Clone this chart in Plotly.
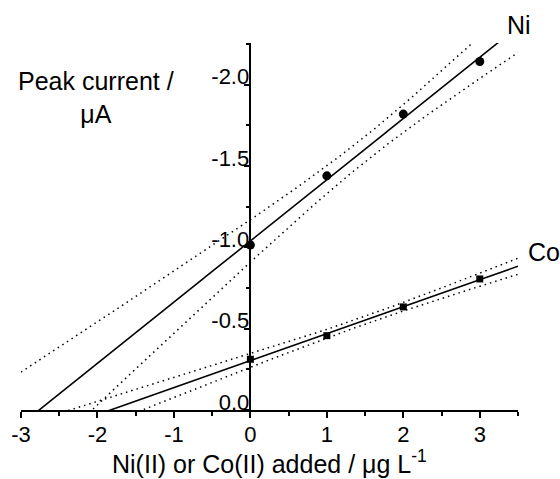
import numpy as np
import plotly.graph_objects as go

# ---- data ----
added = [0, 1, 2, 3]                       # Ni(II) or Co(II) added / ug L-1
ni_current = [-1.015, -1.44, -1.82, -2.143]  # peak current / uA
co_current = [-0.312, -0.457, -0.634, -0.806]
x_ticks = [-3, -2, -1, 0, 1, 2, 3]
x_ticktext = ["-3", "-2", "-1", "0", "1", "2", "3"]
y_tickvals = [0, -0.5, -1.0, -1.5, -2.0]
y_ticktext = ["0.0", "-0.5", "-1.0", "-1.5", "-2.0"]
t_95_df2 = 4.303  # Student t, 95 %, n-2 = 2 degrees of freedom

X_RANGE = [-3, 3.5]
Y_RANGE = [0, -2.257]

FONT = "Liberation Sans"
TICK_SIZE = 22


def fit_with_band(x, y, grid):
    x = np.asarray(x, float)
    y = np.asarray(y, float)
    slope, icpt = np.polyfit(x, y, 1)
    resid = y - (slope * x + icpt)
    n = len(x)
    s = np.sqrt(np.sum(resid ** 2) / (n - 2))
    sxx = np.sum((x - x.mean()) ** 2)
    yfit = slope * grid + icpt
    half = t_95_df2 * s * np.sqrt(1.0 / n + (grid - x.mean()) ** 2 / sxx)
    return yfit, yfit - half, yfit + half


grid = np.linspace(X_RANGE[0], X_RANGE[1], 600)
ni_fit, ni_lo, ni_hi = fit_with_band(added, ni_current, grid)
co_fit, co_lo, co_hi = fit_with_band(added, co_current, grid)

fig = go.Figure()

dot = dict(color="black", width=1.5, dash="1.5px,4px")
for band in (ni_lo, ni_hi, co_lo, co_hi):
    fig.add_trace(go.Scatter(x=grid, y=band, mode="lines", line=dot,
                             hoverinfo="skip", showlegend=False))

for fit in (ni_fit, co_fit):
    fig.add_trace(go.Scatter(x=grid, y=fit, mode="lines",
                             line=dict(color="black", width=1.6),
                             hoverinfo="skip", showlegend=False))

fig.add_trace(go.Scatter(x=added, y=ni_current, mode="markers",
                         marker=dict(symbol="circle", size=9, color="black"),
                         showlegend=False))
fig.add_trace(go.Scatter(x=added, y=co_current, mode="markers",
                         marker=dict(symbol="square", size=7, color="black"),
                         showlegend=False))

L, R, T, B = 21, 42, 43, 69
W, H = 560, 479
pw, ph = W - L - R, H - T - B


def px_to_paper(px, py):
    return (px - L) / pw, (H - B - py) / ph


fig.update_layout(
    width=W, height=H,
    margin=dict(l=L, r=R, t=T, b=B, pad=0),
    paper_bgcolor="white", plot_bgcolor="white",
    font=dict(family=FONT, color="black", size=22),
    showlegend=False,
    xaxis=dict(
        range=X_RANGE, showgrid=False, zeroline=False,
        showline=True, linecolor="black", linewidth=1.5,
        tickmode="array", tickvals=x_ticks, ticktext=x_ticktext,
        ticks="outside", ticklen=6, tickwidth=1.5, tickcolor="black",
        ticklabelstandoff=-2,
        tickfont=dict(size=TICK_SIZE, family=FONT, color="black"),
        minor=dict(tickmode="linear", tick0=-3, dtick=0.5, ticks="outside",
                   ticklen=4, tickwidth=1.5, tickcolor="black"),
    ),
    yaxis=dict(
        range=Y_RANGE, showgrid=False, zeroline=False,
        anchor="free", position=(0 - X_RANGE[0]) / (X_RANGE[1] - X_RANGE[0]),
        showline=True, linecolor="black", linewidth=1.5,
        tickmode="array", tickvals=y_tickvals, ticktext=y_ticktext,
        ticks="outside", ticklen=6, tickwidth=1.5, tickcolor="black",
        ticklabelstandoff=-10, ticklabelshift=8,
        tickfont=dict(size=TICK_SIZE, family=FONT, color="black"),
        minor=dict(tickmode="linear", tick0=0, dtick=0.25, ticks="outside",
                   ticklen=4, tickwidth=1.5, tickcolor="black"),
    ),
)

# y-axis title (two lines, top-left)
ax, ay = px_to_paper(96, 65)
fig.add_annotation(xref="paper", yref="paper", x=ax, y=ay,
                   xanchor="center", yanchor="top", showarrow=False,
                   text="Peak current /<br>\u03bcA",
                   font=dict(size=25, family=FONT), align="center")

# x-axis title
ax, ay = px_to_paper(269.5, 480)
fig.add_annotation(xref="paper", yref="paper", x=ax, y=ay,
                   xanchor="center", yanchor="bottom", showarrow=False,
                   text="Ni(II) or Co(II) added / \u03bcg L<sup>-1</sup>",
                   font=dict(size=25, family=FONT))

# series labels
ax, ay = px_to_paper(505, 25)
fig.add_annotation(xref="paper", yref="paper", x=ax, y=ay,
                   xanchor="left", yanchor="middle", showarrow=False,
                   text="Ni", font=dict(size=25, family=FONT))
ax, ay = px_to_paper(526, 252)
fig.add_annotation(xref="paper", yref="paper", x=ax, y=ay,
                   xanchor="left", yanchor="middle", showarrow=False,
                   text="Co", font=dict(size=25, family=FONT))

fig.write_html("out.html")
